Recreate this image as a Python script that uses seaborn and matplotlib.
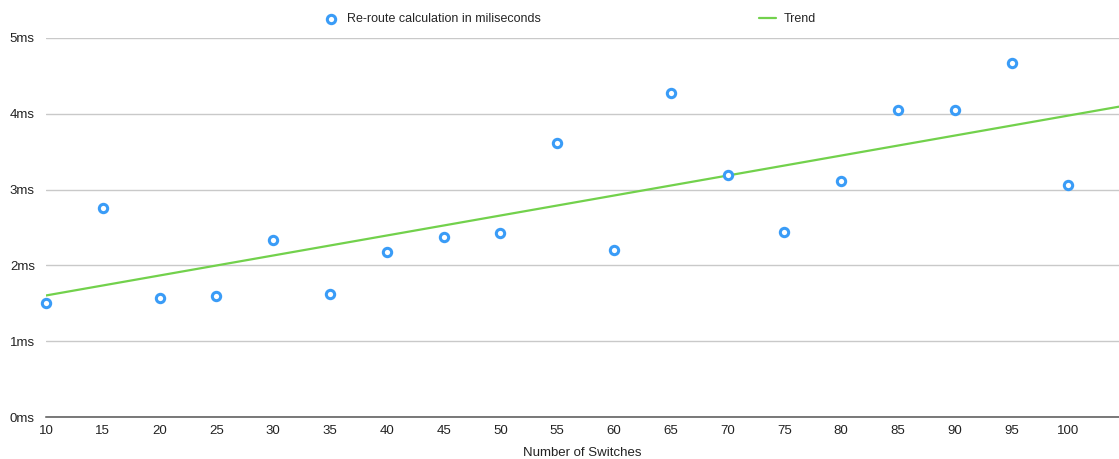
import numpy as np
import pandas as pd
import matplotlib
matplotlib.use("Agg")
import matplotlib.pyplot as plt
import seaborn as sns

switches = [10, 15, 20, 25, 30, 35, 40, 45, 50, 55, 60, 65, 70, 75, 80, 85, 90, 95, 100]
reroute_ms = [1.50, 2.76, 1.57, 1.60, 2.33, 1.62, 2.18, 2.37, 2.43, 3.61,
              2.20, 4.27, 3.19, 2.44, 3.11, 4.05, 4.05, 4.67, 3.06]
y_ticks = [0, 1, 2, 3, 4, 5]
y_labels = [f"{v}ms" for v in y_ticks]

df = pd.DataFrame({"switches": switches, "ms": reroute_ms})

sns.set_theme(style="white")
plt.rcParams['font.family'] = ['Liberation Sans', 'DejaVu Sans']

blue = "#3a9cf7"
green = "#72d14c"

fig = plt.figure(figsize=(11.19, 4.59), dpi=100)
ax = fig.add_axes([46 / 1119, 42 / 459, 1 - 46 / 1119, 379 / 459])
ax.set_xlim(10, 104.45)
ax.set_ylim(0, 5)

# trend line (least squares), drawn from first point to the right edge
sns.regplot(data=df, x="switches", y="ms", ax=ax, scatter=False, ci=None,
            truncate=False, color=green, line_kws={"linewidth": 1.6, "zorder": 3})
trend = ax.get_lines()[0]
xd, yd = trend.get_data()
keep = xd >= min(switches)
trend.set_data(xd[keep], yd[keep])
trend.set_label("Trend")

sns.scatterplot(data=df, x="switches", y="ms", ax=ax, marker="o", s=36,
                facecolor="white", edgecolor=blue, linewidth=2.2, zorder=4,
                clip_on=False, label="Re-route calculation in miliseconds")
if ax.get_legend() is not None:
    ax.get_legend().remove()

ax.set_yticks(y_ticks)
ax.set_yticklabels(y_labels)
ax.set_xticks(switches)
ax.grid(axis="y", color="#c9c9c9", linewidth=1)
ax.set_axisbelow(True)
for s in ["left", "right", "top"]:
    ax.spines[s].set_visible(False)
ax.spines["bottom"].set_color("#555555")
ax.spines["bottom"].set_linewidth(1.1)
ax.tick_params(axis="both", length=0, labelsize=9.5, colors="#222222")
ax.tick_params(axis="y", pad=8)
ax.tick_params(axis="x", pad=6)
ax.set_xlabel("Number of Switches", fontsize=9.5, color="#222222", labelpad=7)
ax.set_ylabel("")

handles, labels = ax.get_legend_handles_labels()
order = [labels.index("Re-route calculation in miliseconds"), labels.index("Trend")]
leg = fig.legend([handles[i] for i in order], [labels[i] for i in order],
                 loc="center", bbox_to_anchor=(569 / 1119, 1 - 19 / 459), ncol=2,
                 frameon=False, fontsize=9, columnspacing=17.4, handlelength=1.4,
                 handletextpad=0.6)

fig.savefig("out.png", dpi=100)
